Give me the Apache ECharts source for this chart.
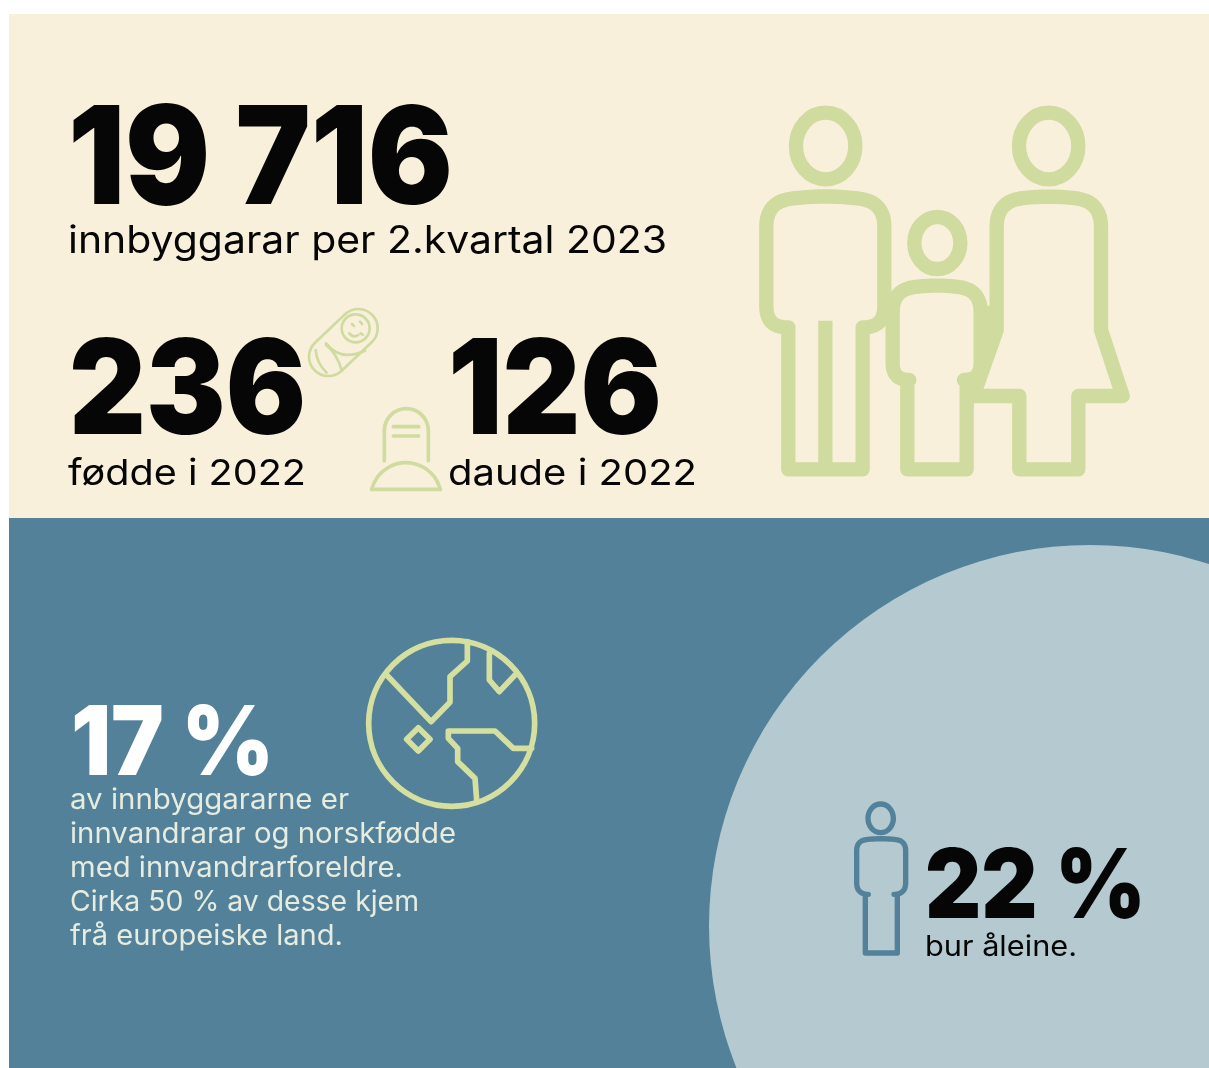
<!DOCTYPE html>
<html>
<head>
<meta charset="utf-8">
<title>Innbyggarar 2023</title>
<script src="https://cdn.jsdelivr.net/npm/echarts@6/dist/echarts.min.js"></script>
<style>
  html, body { margin: 0; padding: 0; background: #fff; }
  #chart { width: 1209px; height: 1068px; }
</style>
</head>
<body>
<div id="chart"></div>
<script>
// tal og tekst
const figures = ['19 716', '236', '126', '17 %', '22 %'];
const captions = ['innbyggarar per 2.kvartal 2023', 'fødde i 2022', 'daude i 2022'];
const immigrantLines = [
  'av innbyggararne er',
  'innvandrarar og norskfødde',
  'med innvandrarforeldre.',
  'Cirka 50 % av desse kjem',
  'frå europeiske land.'
];
const aloneCaption = 'bur åleine.';

const BEIGE = '#f9f0dc', BLUE = '#528199', PALE = '#b5c9d0', GREEN = '#cfdb9f', GLOBE = '#d5df9f';
const INK = '#060606', PARA = '#e6ecdf';
const BIG = '"Inter", sans-serif';

const measure = document.createElement('canvas').getContext('2d');

// tekst plassert etter grunnlinje og breidde
function label(str, x, baseline, size, weight, width, color) {
  const font = weight + ' ' + size + 'px ' + BIG;
  measure.font = font;
  measure.textBaseline = 'middle';
  const m = measure.measureText(str);
  return {
    type: 'text', x: x, y: baseline - measure.measureText('H').actualBoundingBoxDescent,
    scaleX: width / m.width, silent: true,
    style: { text: str, font: font, fill: color, align: 'left', verticalAlign: 'middle' }
  };
}

// punkt [x, y, r] -> polyline med avrunda hjørne
function rounded(pts) {
  const out = [];
  const n = pts.length;
  pts.forEach((p, i) => {
    const r = p[2] || 0;
    if (!r) { out.push([p[0], p[1]]); return; }
    const a = pts[(i - 1 + n) % n], b = pts[(i + 1) % n];
    const la = Math.hypot(a[0] - p[0], a[1] - p[1]), lb = Math.hypot(b[0] - p[0], b[1] - p[1]);
    const s = [p[0] + (a[0] - p[0]) * r / la, p[1] + (a[1] - p[1]) * r / la];
    const e = [p[0] + (b[0] - p[0]) * r / lb, p[1] + (b[1] - p[1]) * r / lb];
    for (let t = 0; t <= 1.001; t += 0.1) {
      const u = 1 - t;
      out.push([u * u * s[0] + 2 * u * t * p[0] + t * t * e[0], u * u * s[1] + 2 * u * t * p[1] + t * t * e[1]]);
    }
  });
  return out;
}

function icon(x, y, color, lw, children) {
  return {
    type: 'group', x: x, y: y, scaleX: 1 / 3, scaleY: 1 / 3, silent: true,
    children: children.map(c => {
      c.style = Object.assign({ stroke: color, lineWidth: lw, fill: 'none', lineJoin: 'round', lineCap: 'round' }, c.style);
      return c;
    })
  };
}
const closedLine = (pts) => ({ type: 'polygon', shape: { points: rounded(pts) } });
const openLine = (pts) => ({ type: 'polyline', shape: { points: pts } });
const oval = (cx, cy, rx, ry) => ({ type: 'ellipse', shape: { cx: cx, cy: cy, rx: rx, ry: ry } });
const curve = (x1, y1, cx, cy, x2, y2) => ({ type: 'bezierCurve', shape: { x1: x1, y1: y1, cpx1: cx, cpy1: cy, x2: x2, y2: y2 } });
const arc = (cx, cy, r, a, b) => ({ type: 'arc', shape: { cx: cx, cy: cy, r: r, startAngle: a * Math.PI / 180, endAngle: b * Math.PI / 180, clockwise: true } });

const family = icon(740, 90, GREEN, 43, [
  oval(257, 168, 89, 100),
  oval(926, 168, 89, 100),
  oval(592, 459, 69, 78),
  // mann
  closedLine([[256, 314, 90], [433, 335, 75], [433, 712, 62], [368, 712], [368, 1138], [145, 1138], [145, 712], [79, 712, 62], [79, 335, 75]]),
  { type: 'line', shape: { x1: 256, y1: 692, x2: 256, y2: 1138 }, style: { lineCap: 'butt' } },
  // kvinne
  closedLine([[926, 314, 90], [1083, 335, 75], [1083, 720], [1148, 918], [1015, 918], [1015, 1138], [838, 1138], [838, 918], [700, 918], [770, 720], [770, 335, 75]]),
  // barn
  closedLine([[590, 582, 70], [722, 600, 65], [722, 870, 50], [680, 870], [680, 1138], [502, 1138], [502, 870], [458, 870, 50], [458, 600, 65]]),
  { type: 'polygon', shape: { points: [[722, 650], [770, 650], [770, 720], [705, 918], [680, 918], [680, 870], [722, 830]] }, style: { fill: GREEN, lineWidth: 6 } }
]);

const baby = icon(290, 300, GREEN, 8, [
  arc(205, 85, 58, -133.6, 46.4),
  arc(115, 170, 58, 46.4, 226.4),
  openLine([[165, 43], [75, 128]]),
  openLine([[245, 127], [155, 212]]),
  oval(197, 85, 42, 42),
  curve(108, 130, 150, 185, 225, 152),
  curve(108, 135, 140, 160, 155, 210),
  curve(77, 150, 80, 190, 110, 218),
  curve(178, 100, 190, 115, 205, 105),
  openLine([[186, 72], [192, 78]]),
  openLine([[210, 65], [216, 72]]),
  openLine([[212, 100], [218, 104]])
]);

const grave = icon(290, 300, GREEN, 11, [
  openLine([[283, 482], [283, 392]]),
  arc(349, 392, 66, 180, 360),
  openLine([[415, 392], [415, 482]]),
  openLine([[310, 380], [386, 380]]),
  openLine([[310, 408], [386, 408]]),
  arc(348, 594, 106, 194, 346),
  openLine([[245, 568], [451, 568]])
]);

const globe = icon(350, 625, GLOBE, 17, [
  oval(305, 295, 249, 249),
  openLine([[110, 150], [243, 290], [300, 232], [300, 155], [352, 108], [352, 50]]),
  openLine([[418, 85], [418, 165], [448, 200], [495, 150]]),
  { type: 'polygon', shape: { points: [[205, 308], [240, 343], [205, 378], [170, 343]] } },
  openLine([[380, 525], [375, 460], [323, 410], [323, 370], [295, 340], [295, 318], [435, 318], [490, 370], [545, 370]])
]);

const person = icon(840, 790, BLUE, 16, [
  oval(122, 85, 38, 43),
  closedLine([[123, 144, 40], [197, 152, 30], [197, 313, 35], [172, 313], [172, 489], [76, 489], [76, 313], [50, 313, 35], [50, 152, 30]])
]);

const elements = [
  { type: 'rect', silent: true, shape: { x: 9, y: 14, width: 1200, height: 504 }, style: { fill: BEIGE } },
  { type: 'rect', silent: true, shape: { x: 9, y: 518, width: 1200, height: 550 }, style: { fill: BLUE } },
  { type: 'circle', silent: true, shape: { cx: 1090, cy: 926, r: 381 }, style: { fill: PALE } },
  family, baby, grave, globe, person,
  label(figures[0], 68, 204, 136, 900, 385, INK),
  label(captions[0], 68, 253, 38, 400, 599, INK),
  label(figures[1], 69, 434, 132, 900, 237, INK),
  label(figures[2], 448, 434, 132, 900, 214, INK),
  label(captions[1], 68, 485, 36, 400, 238, INK),
  label(captions[2], 448, 485, 36, 400, 249, INK),
  label(figures[3], 71, 775, 96, 900, 203, '#ffffff'),
  label(figures[4], 925, 918, 96, 900, 221, INK),
  label(aloneCaption, 925, 956, 28, 400, 152, INK)
];
const paraWidths = [279, 386, 333, 349, 273];
immigrantLines.forEach((line, i) => {
  elements.push(label(line, 70, 809 + i * 34, 28, 400, paraWidths[i], PARA));
});

const chart = echarts.init(document.getElementById('chart'));
chart.setOption({ animation: false, graphic: { elements: elements } });
</script>
</body>
</html>
